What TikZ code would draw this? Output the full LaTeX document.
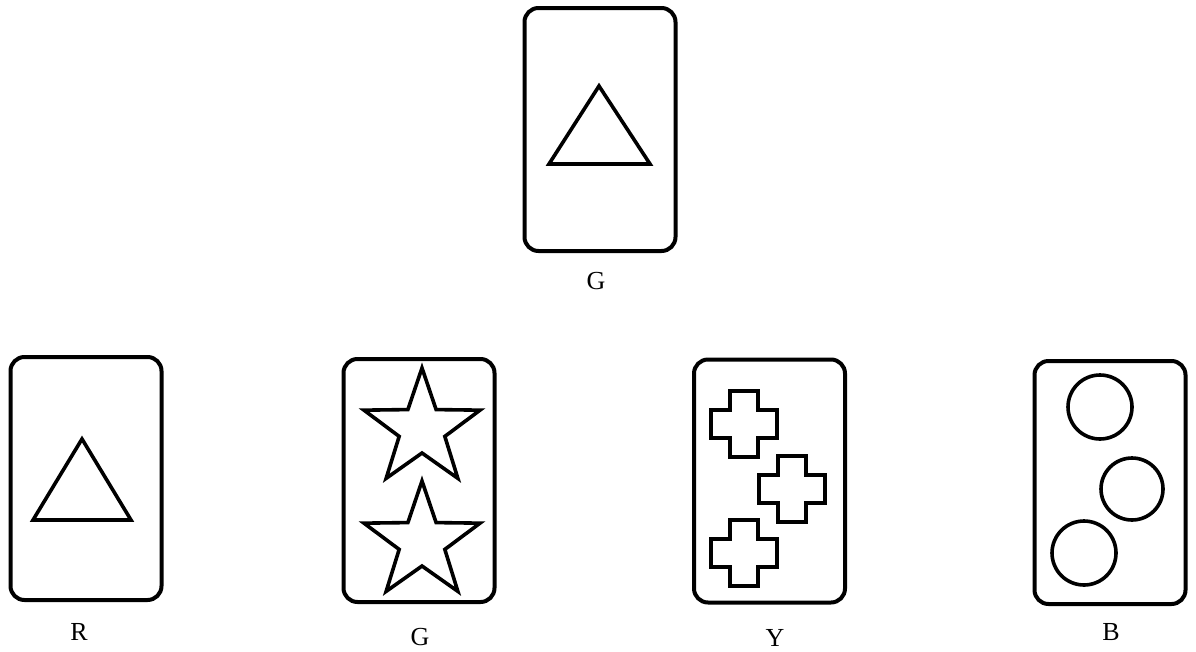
\documentclass[tikz,border=0pt]{standalone}
\usepackage{fontspec}
\setmainfont{Liberation Serif}
\begin{document}
\begin{tikzpicture}[x=1pt,y=-1pt,
  card/.style={draw=black,line width=4pt,rounded corners=14pt,minimum width=151pt,minimum height=243pt,inner sep=0pt,fill=white},
  sh/.style={draw=black,line width=3.6pt},
  lbl/.style={font=\fontsize{26}{30}\selectfont,inner sep=0pt}]
\useasboundingbox (0,0) rectangle (1196,651);
% cards
\node[card] (top) at (600,129.5) {};
\node[card] (cR) at (86,478.5) {};
\node[card] (cG) at (419,480.5) {};
\node[card] (cY) at (769.5,481) {};
\node[card] (cB) at (1110,482.5) {};
% labels
\node[lbl] (ltop) at (596,281) {G};
\node[lbl] (lR) at (79,632) {R};
\node[lbl] (lG) at (420,637) {G};
\node[lbl] (lY) at (775,638) {Y};
\node[lbl] (lB) at (1111,632) {B};
% triangles
\draw[sh] (599,86) -- (650,164) -- (549,164) -- cycle;
\draw[sh] (82,439) -- (131,520) -- (33,520) -- cycle;
% stars
\foreach \cy in {429,542}{
\draw[sh,shift={(422,\cy)}] (-90:61) -- (-54:24) -- (-18:61) -- (18:24) -- (54:61) -- (90:24) -- (126:61) -- (162:24) -- (198:61) -- (234:24) -- cycle;
}
% crosses
\foreach \cx/\cy in {744/424,792/489,744/553}{
\draw[sh,shift={(\cx,\cy)}] (-14,-33) -- (14,-33) -- (14,-14) -- (33,-14) -- (33,14) -- (14,14) -- (14,33) -- (-14,33) -- (-14,14) -- (-33,14) -- (-33,-14) -- (-14,-14) -- cycle;
}
% circles
\draw[sh] (1100,407) circle (32);
\draw[sh] (1132,489) circle (31);
\draw[sh] (1084,553) circle (32);
\end{tikzpicture}
\end{document}
